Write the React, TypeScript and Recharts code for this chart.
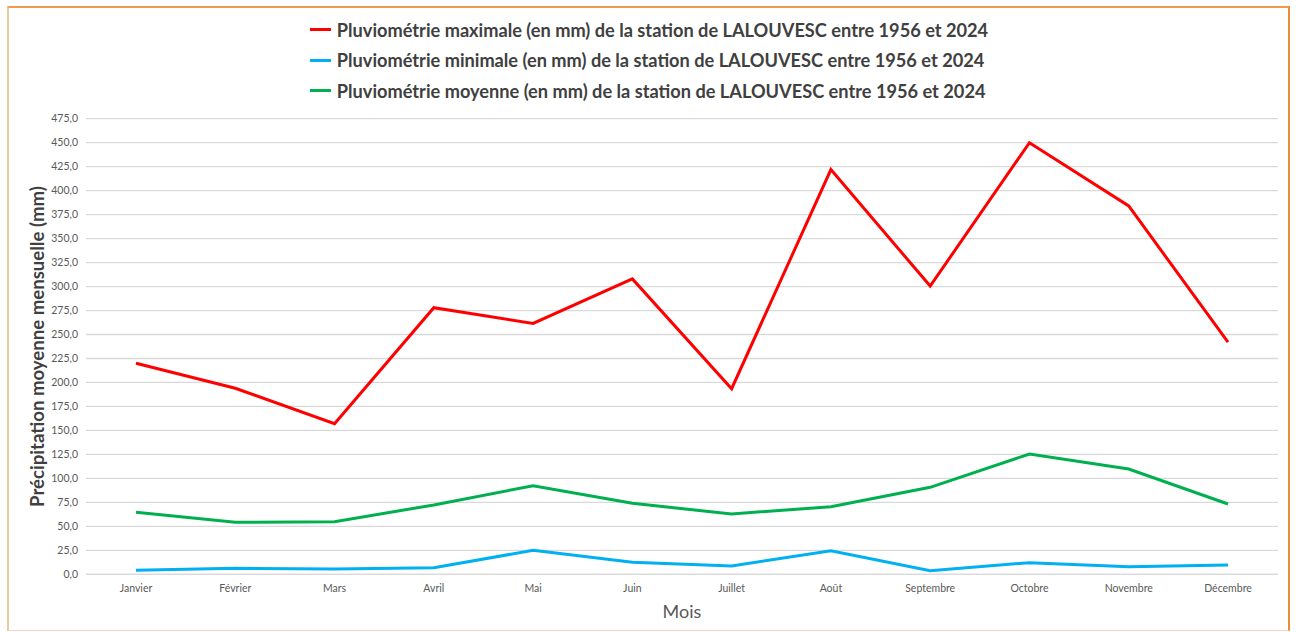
import React from 'react';
import { LineChart, Line, XAxis, YAxis, CartesianGrid, Legend } from 'recharts';

const months = ['Janvier', 'Février', 'Mars', 'Avril', 'Mai', 'Juin', 'Juillet', 'Août', 'Septembre', 'Octobre', 'Novembre', 'Décembre'];
const maxValues = [220.0, 194.0, 157.0, 278.0, 261.5, 308.0, 193.5, 422.0, 300.5, 450.0, 384.0, 242.0];
const minValues = [4.2, 6.3, 5.5, 6.9, 25.0, 12.5, 8.7, 24.6, 3.8, 12.1, 7.9, 9.7];
const meanValues = [64.6, 54.2, 54.9, 72.3, 92.4, 74.0, 62.9, 70.5, 90.7, 125.4, 109.8, 73.3];
const yTicks = [0, 25, 50, 75, 100, 125, 150, 175, 200, 225, 250, 275, 300, 325, 350, 375, 400, 425, 450, 475];

const seriesNames = {
  max: 'Pluviométrie maximale (en mm) de la station de LALOUVESC entre 1956 et 2024',
  min: 'Pluviométrie minimale (en mm) de la station de LALOUVESC entre 1956 et 2024',
  mean: 'Pluviométrie moyenne (en mm) de la station de LALOUVESC entre 1956 et 2024',
};

const data = months.map((m, i) => ({ month: m, max: maxValues[i], min: minValues[i], mean: meanValues[i] }));

const FONT = 'Lato, "Open Sans", sans-serif';

const renderLegend = (props: any) => {
  const { payload } = props;
  return (
    <div style={{ width: 1298, height: 100, display: 'flex', justifyContent: 'center', alignItems: 'flex-start' }}>
      <div style={{ display: 'flex', flexDirection: 'column', alignItems: 'flex-start', paddingTop: 14.5 }}>
        {(payload || []).map((entry: any, i: number) => (
          <div key={i} style={{ height: 30.5, flexShrink: 0, display: 'flex', alignItems: 'center' }}>
            <span style={{ display: 'inline-block', width: 21, height: 3, background: entry.color, marginRight: 6 }} />
            <span style={{ fontFamily: FONT, fontWeight: 700, fontSize: 18.2, color: '#404040', whiteSpace: 'nowrap' }}>{entry.value}</span>
          </div>
        ))}
      </div>
    </div>
  );
};

export default function App() {
  return (
    <div style={{ position: 'absolute', left: 0, top: 0, width: 1298, height: 632, background: '#fff', fontFamily: FONT }}>
      <div style={{ position: 'absolute', left: 7, top: 6, width: 1283, height: 625, boxSizing: 'border-box', borderTop: '2px solid #ee9b50', borderRight: '2px solid #e88c3a', borderLeft: '2px solid #e8cb9f', borderBottom: '1px solid #f5d2c8' }} />
      <div style={{ position: 'absolute', left: 0, top: 0 }}>
        <LineChart width={1298} height={632} data={data} margin={{ top: 18.7, right: 20, bottom: 0, left: 0 }}>
          <CartesianGrid vertical={false} stroke="#d9d9d9" strokeWidth={1.3} />
          <XAxis
            dataKey="month"
            height={57.7}
            padding={{ left: 50, right: 50 }}
            axisLine={{ stroke: '#d9d9d9', strokeWidth: 1.3 }}
            tickLine={false}
            tickMargin={4}
            tick={{ fill: '#595959', fontSize: 10.5, fontFamily: FONT }}
            interval={0}
            label={{ value: 'Mois', position: 'insideBottom', offset: 14, style: { fill: '#595959', fontSize: 18, fontFamily: FONT } }}
          />
          <YAxis
            width={86}
            domain={[0, 475]}
            ticks={yTicks}
            axisLine={false}
            tickLine={false}
            interval={0}
            tick={{ fill: '#595959', fontSize: 10.5, fontFamily: FONT }}
            tickFormatter={(v: number) => v.toFixed(1).replace('.', ',')}
            label={{ value: 'Précipitation moyenne mensuelle (mm)', angle: -90, position: 'insideLeft', offset: 37, style: { textAnchor: 'middle', fill: '#404040', fontSize: 18.6, fontWeight: 700, fontFamily: FONT } }}
          />
          <Legend verticalAlign="top" content={renderLegend} wrapperStyle={{ top: 0, left: 0, width: 1298, height: 100 }} />
          <Line type="linear" dataKey="max" name={seriesNames.max} stroke="#ff0000" strokeWidth={3} dot={false} activeDot={false} isAnimationActive={false} />
          <Line type="linear" dataKey="min" name={seriesNames.min} stroke="#00b0f0" strokeWidth={3} dot={false} activeDot={false} isAnimationActive={false} />
          <Line type="linear" dataKey="mean" name={seriesNames.mean} stroke="#00b050" strokeWidth={3} dot={false} activeDot={false} isAnimationActive={false} />
        </LineChart>
      </div>
    </div>
  );
}
